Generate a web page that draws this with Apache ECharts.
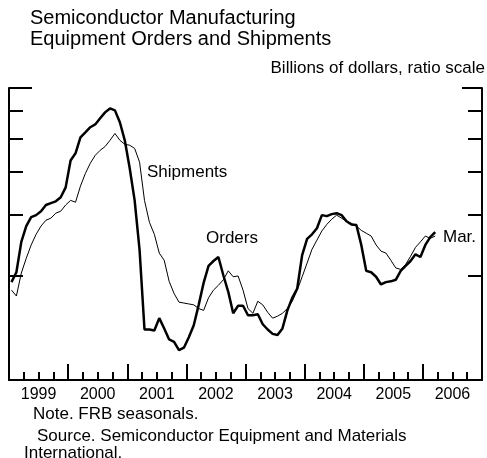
<!DOCTYPE html>
<html>
<head>
<meta charset="utf-8">
<script src="https://cdn.jsdelivr.net/npm/echarts@6/dist/echarts.min.js"></script>
<style>html,body{margin:0;padding:0;background:#fff;}#c{width:487px;height:458px;}</style>
</head>
<body>
<div id="c"></div>
<script>
// Monthly data, Jan 1999 - Mar 2006, billions of dollars (ratio scale)
const startYear = 1999;
const orders = [
  1.92, 2.05, 2.51, 2.79, 2.96, 3.00, 3.08, 3.21, 3.25, 3.29, 3.38, 3.61,
  4.32, 4.53, 5.04, 5.21, 5.39, 5.49, 5.72, 5.95, 6.11, 6.03, 5.57, 4.94,
  4.10, 3.31, 2.38, 1.40, 1.40, 1.39, 1.51, 1.41, 1.31, 1.29, 1.22, 1.24,
  1.33, 1.44, 1.65, 1.91, 2.14, 2.21, 2.27, 2.01, 1.80, 1.56, 1.64, 1.64,
  1.54, 1.54, 1.55, 1.45, 1.40, 1.36, 1.35, 1.41, 1.59, 1.73, 1.84, 2.30,
  2.56, 2.64, 2.75, 3.00, 2.98, 3.02, 3.04, 3.00, 2.88, 2.82, 2.81, 2.46,
  2.07, 2.05, 1.99, 1.89, 1.92, 1.93, 1.95, 2.07, 2.14, 2.21, 2.31, 2.27,
  2.46, 2.59, 2.68
];
const shipments = [
  1.82, 1.75, 2.04, 2.25, 2.46, 2.64, 2.79, 2.90, 2.94, 3.04, 3.08, 3.21,
  3.31, 3.27, 3.64, 3.96, 4.24, 4.47, 4.62, 4.74, 4.94, 5.17, 4.94, 4.81,
  4.78, 4.68, 4.27, 3.31, 2.86, 2.64, 2.33, 2.22, 1.93, 1.78, 1.68, 1.67,
  1.66, 1.65, 1.61, 1.59, 1.73, 1.82, 1.88, 1.95, 2.07, 1.99, 2.00, 1.82,
  1.61, 1.56, 1.69, 1.65, 1.57, 1.51, 1.53, 1.56, 1.61, 1.69, 1.82, 1.99,
  2.18, 2.39, 2.54, 2.70, 2.82, 2.92, 3.00, 2.94, 2.88, 2.84, 2.79, 2.71,
  2.66, 2.61, 2.46, 2.36, 2.33, 2.22, 2.11, 2.09, 2.16, 2.28, 2.42, 2.51,
  2.61, 2.57, 2.61
];
const yearLabels = ['1999','2000','2001','2002','2003','2004','2005','2006'];
const yTicks = [2, 3, 4, 5, 6];
const yTopTick = [7];

const FONT = '"Liberation Sans", Arial, Helvetica, sans-serif';
function toPoints(arr) {
  return arr.map((v, i) => [startYear + (i + 0.5) / 12, v]);
}
const labelPos = yearLabels.map((y) => Number(y) + 0.5);

const chart = echarts.init(document.getElementById('c'), null, {renderer: 'canvas'});

function yAxis(pos, ticks, len, showLine) {
  return {
    type: 'log', logBase: 10, min: 1, max: 7, position: pos,
    axisLine: {show: showLine, lineStyle: {color: '#000', width: 2}},
    axisTick: {show: true, inside: true, length: len, customValues: ticks, lineStyle: {color: '#000', width: 2}},
    axisLabel: {show: false},
    splitLine: {show: false}
  };
}

chart.setOption({
  animation: false,
  backgroundColor: '#fff',
  grid: {left: 9, right: 5, top: 88, height: 292, containLabel: false},
  title: {
    text: 'Semiconductor Manufacturing\nEquipment Orders and Shipments',
    left: 25, top: 3,
    textStyle: {fontFamily: FONT, fontSize: 20, fontWeight: 'normal', color: '#000', lineHeight: 21}
  },
  xAxis: [{
    type: 'value', min: 1999, max: 2007, interval: 1,
    axisLine: {show: true, onZero: false, lineStyle: {color: '#000', width: 2}},
    axisTick: {show: true, inside: true, length: 16, lineStyle: {color: '#000', width: 2}},
    minorTick: {show: true, splitNumber: 4, length: 8, lineStyle: {color: '#000', width: 2}},
    axisLabel: {show: true, customValues: labelPos, formatter: (v) => String(Math.floor(v)),
      fontFamily: FONT, fontSize: 16, color: '#000', margin: 7},
    splitLine: {show: false}
  }],
  yAxis: [
    yAxis('left', yTicks, 14, true),
    yAxis('left', yTopTick, 23, false),
    yAxis('right', yTicks, 14, true),
    yAxis('right', yTopTick, 20, false)
  ],
  series: [
    {name: 'Shipments', type: 'line', data: toPoints(shipments), showSymbol: false,
     lineStyle: {color: '#000', width: 1}, z: 3},
    {name: 'Orders', type: 'line', data: toPoints(orders), showSymbol: false,
     lineStyle: {color: '#000', width: 2.5}, z: 4}
  ],
  graphic: [
    {type: 'text', right: 2, top: 60, style: {text: 'Billions of dollars, ratio scale', font: '17px ' + FONT, fill: '#000'}},
    {type: 'text', left: 147, top: 164, style: {text: 'Shipments', font: '17px ' + FONT, fill: '#000'}},
    {type: 'text', left: 206, top: 230, style: {text: 'Orders', font: '17px ' + FONT, fill: '#000'}},
    {type: 'text', left: 443, top: 229, style: {text: 'Mar.', font: '17px ' + FONT, fill: '#000'}},
    {type: 'text', left: 33, top: 406, style: {text: 'Note. FRB seasonals.', font: '17px ' + FONT, fill: '#000'}},
    {type: 'text', left: 37, top: 428, style: {text: 'Source. Semiconductor Equipment and Materials', font: '17px ' + FONT, fill: '#000'}},
    {type: 'text', left: 24, top: 445, style: {text: 'International.', font: '17px ' + FONT, fill: '#000'}}
  ]
});
</script>
</body>
</html>
